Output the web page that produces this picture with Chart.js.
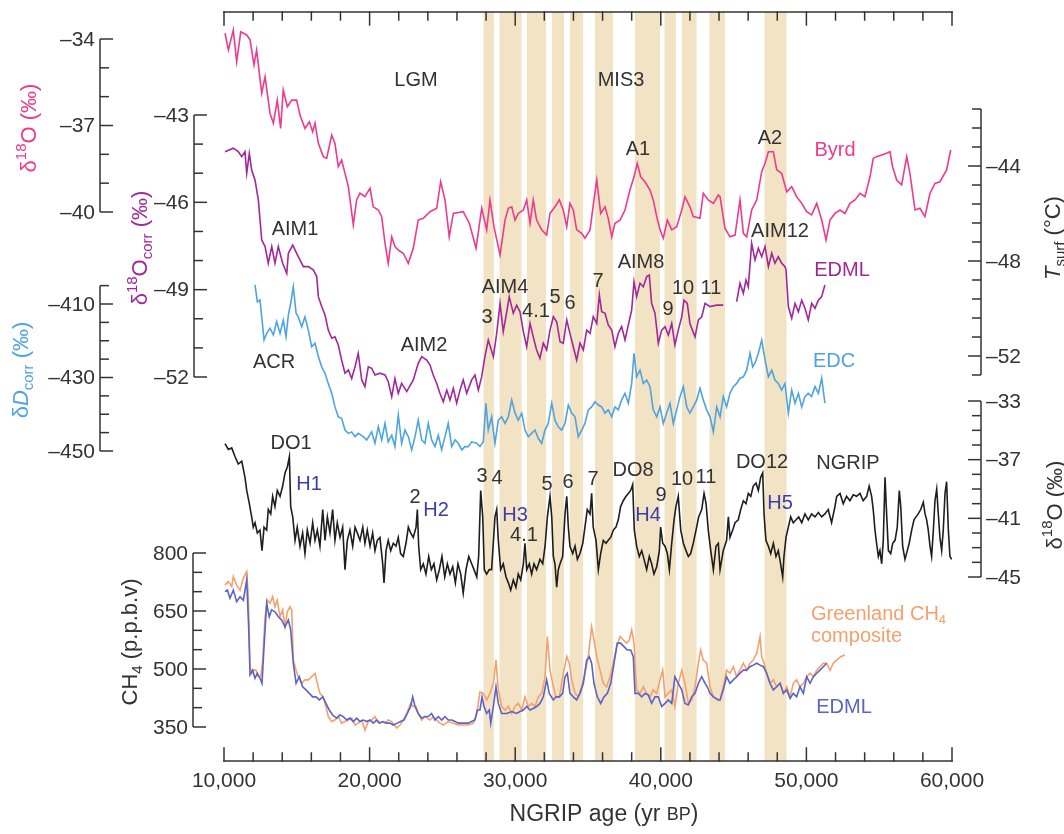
<!DOCTYPE html>
<html>
<head>
<meta charset="utf-8">
<script src="https://cdn.jsdelivr.net/npm/chart.js@4.4.1/dist/chart.umd.min.js"></script>
<style>
  html, body { margin: 0; padding: 0; background: #fff; }
  canvas { display: block; }
</style>
</head>
<body>
<canvas id="chart" width="1064" height="834"></canvas>
<script>
// ---- data: [age (yr BP), value] ----
const byrd = [
  [10070,-33.80],[10300,-34.38],[10640,-33.69],[10870,-34.79],[11150,-33.75],[11560,-33.86],[11790,-34.03],[12060,-34.90],[12240,-34.38],[12590,-35.88],
  [12820,-35.31],[13160,-36.58],[13390,-36.92],[13660,-36.12],[13890,-37.10],[14070,-35.77],[14350,-36.35],[14650,-36.12],[14990,-36.12],[15220,-36.64],
  [15560,-37.10],[15860,-36.87],[16090,-37.22],[16250,-36.92],[16480,-37.62],[16820,-38.08],[17050,-38.14],[17400,-37.33],[17620,-37.62],[17850,-38.43],
  [18080,-38.20],[18310,-38.66],[18540,-39.12],[18880,-40.45],[19110,-39.58],[19340,-39.35],[19680,-39.47],[20030,-39.18],[20250,-39.82],[20600,-39.93],
  [20830,-40.16],[21060,-41.09],[21280,-41.78],[21520,-40.86],[21740,-41.20],[21970,-41.32],[22310,-41.43],[22660,-41.78],[23000,-41.26],[23340,-40.28],
  [23690,-40.22],[24150,-39.99],[24610,-39.87],[24880,-38.95],[25180,-39.58],[25470,-40.86],[25750,-40.05],[26430,-39.99],[26850,-40.39],[27310,-41.26],
  [27700,-39.87],[28040,-40.62],[28270,-39.58],[28540,-40.51],[28960,-41.49],[29300,-40.28],[29530,-39.87],[29760,-39.82],[29990,-40.28],[30210,-40.05],
  [30560,-39.93],[30790,-39.58],[31020,-40.39],[31240,-39.58],[31470,-40.28],[31820,-40.62],[32160,-40.80],[32390,-40.05],[32730,-39.82],[33030,-39.58],
  [33300,-39.93],[33540,-40.51],[33760,-39.70],[33990,-39.93],[34220,-40.62],[34570,-40.74],[34790,-40.91],[35140,-40.62],[35410,-39.58],[35600,-38.89],
  [35870,-40.05],[36170,-39.82],[36390,-40.22],[36630,-40.86],[36850,-40.39],[37200,-40.28],[37540,-39.93],[37880,-39.24],[38160,-38.78],[38380,-38.31],
  [38620,-38.78],[38910,-38.95],[39260,-39.24],[39480,-39.58],[39720,-40.16],[39950,-40.62],[40170,-40.91],[40450,-40.28],[40750,-40.62],[41090,-40.51],
  [41440,-39.93],[41660,-39.47],[42000,-39.82],[42230,-40.16],[42690,-40.22],[42920,-39.35],[43260,-39.58],[43610,-39.70],[43950,-39.41],[44070,-39.47],
  [44410,-40.57],[44750,-40.86],[45100,-40.80],[45440,-39.58],[45670,-40.74],[45900,-40.86],[46240,-39.93],[46590,-39.58],[46930,-38.60],[47160,-38.31],
  [47390,-37.91],[47730,-37.91],[47960,-38.54],[48300,-38.66],[48650,-39.30],[48990,-39.12],[49330,-39.47],[49680,-39.70],[50020,-39.99],[50360,-40.10],
  [50710,-39.70],[51050,-40.28],[51350,-40.97],[51620,-40.28],[51960,-40.05],[52310,-39.93],[52650,-40.05],[52990,-39.70],[53340,-39.58],[53680,-39.35],
  [54020,-39.47],[54370,-38.78],[54590,-38.14],[54820,-38.08],[55170,-38.02],[55510,-37.96],[55740,-37.91],[55920,-38.43],[56200,-38.89],[56540,-39.06],
  [56890,-38.08],[57110,-38.66],[57460,-39.93],[57800,-39.87],[58140,-40.16],[58490,-39.35],[58830,-39.01],[59170,-38.95],[59630,-38.54],[59910,-37.85]
];

const edml = [
  [10070,-44.26],[10640,-44.14],[10980,-44.26],[11220,-44.43],[11440,-44.26],[11560,-45.00],[11740,-44.32],[11900,-44.89],[12130,-45.23],[12360,-45.92],
  [12590,-47.29],[12820,-47.52],[13040,-48.09],[13280,-47.52],[13500,-48.09],[13730,-47.52],[14030,-48.09],[14310,-48.44],[14420,-47.75],[14720,-47.47],
  [14990,-47.75],[15220,-47.98],[15450,-48.21],[15790,-48.21],[16130,-48.32],[16370,-48.55],[16480,-49.24],[16710,-49.58],[16940,-49.87],[17160,-50.39],
  [17400,-50.67],[17620,-50.62],[17850,-50.90],[18080,-51.42],[18310,-51.87],[18540,-51.76],[18770,-52.05],[19000,-51.65],[19220,-51.19],[19460,-52.10],
  [19680,-52.33],[19910,-51.65],[20140,-51.70],[20370,-51.93],[20710,-51.87],[21060,-51.93],[21280,-52.16],[21520,-52.68],[21740,-52.05],[21970,-52.56],
  [22200,-52.22],[22550,-52.50],[23000,-52.10],[23340,-51.53],[23580,-51.30],[23920,-51.42],[24150,-51.59],[24370,-51.93],[24610,-52.22],[24830,-52.56],
  [25060,-52.85],[25300,-52.45],[25520,-52.79],[25750,-52.39],[25980,-52.90],[26210,-52.45],[26430,-52.10],[26670,-52.56],[27010,-52.10],[27240,-51.93],
  [27470,-52.45],[27700,-51.99],[27920,-51.30],[28150,-50.73],[28500,-51.30],[28730,-50.50],[28960,-49.47],[29180,-50.44],[29420,-49.76],[29590,-49.24],
  [29870,-49.81],[30100,-49.53],[30330,-49.76],[30560,-50.44],[30790,-50.96],[31020,-50.16],[31240,-50.62],[31470,-51.07],[31700,-51.36],[31930,-50.84],
  [32160,-51.07],[32390,-50.39],[32620,-49.93],[32850,-50.10],[33080,-50.79],[33300,-50.84],[33540,-50.04],[33760,-50.50],[33990,-50.96],[34220,-51.42],
  [34450,-50.84],[34680,-51.07],[34910,-50.39],[35140,-50.50],[35360,-49.93],[35600,-50.16],[35780,-49.18],[35940,-49.76],[36170,-49.81],[36390,-50.21],
  [36630,-50.39],[36850,-50.96],[37080,-50.50],[37310,-50.27],[37540,-50.73],[37770,-50.21],[38000,-49.70],[38160,-48.73],[38340,-49.24],[38570,-48.78],
  [38800,-48.90],[39030,-48.55],[39210,-48.50],[39370,-49.47],[39600,-49.81],[39830,-50.84],[40060,-50.39],[40290,-50.27],[40520,-50.56],[40750,-50.16],
  [40970,-50.90],[41200,-50.39],[41440,-49.93],[41590,-49.36],[41820,-49.47],[42000,-50.16],[42350,-50.62],[42580,-50.04],[42810,-49.93],[43040,-49.47],
  [43380,-49.58],[43840,-49.53],[44290,-49.53],[44750,null],
  [45210,-49.41],[45440,-48.78],[45670,-49.13],[45850,-48.67],[46010,-48.90],[46240,-47.41],[46470,-47.98],[46700,-47.58],[46930,-47.87],[47160,-47.52],
  [47390,-48.21],[47620,-47.75],[47840,-48.09],[48070,-47.87],[48300,-48.09],[48530,-48.21],[48600,-48.32],[48760,-49.58],[48990,-49.98],[49220,-49.47],
  [49450,-49.76],[49680,-49.36],[49900,-49.64],[50130,-50.04],[50360,-49.47],[50590,-49.64],[50820,-49.36],[51050,-49.24],[51270,-48.84]
];

const edc = [
  [12130,-404.8],[12290,-409.4],[12470,-408.9],[12590,-413.5],[12750,-419.8],[12930,-418.0],[13160,-416.6],[13390,-418.4],[13620,-414.8],[13850,-418.0],
  [14070,-414.4],[14260,-418.9],[14420,-413.0],[14580,-409.8],[14760,-405.3],[14950,-412.5],[15100,-413.5],[15340,-416.2],[15560,-413.5],[15790,-417.1],
  [16020,-421.6],[16250,-420.7],[16480,-424.3],[16710,-427.1],[16940,-428.9],[17160,-431.6],[17400,-434.3],[17620,-438.0],[17850,-440.7],[18080,-441.1],
  [18310,-444.3],[18540,-445.2],[18770,-444.8],[19000,-446.1],[19220,-445.2],[19570,-446.1],[19800,-447.0],[20140,-444.8],[20370,-447.9],[20600,-443.4],
  [20830,-447.0],[21060,-442.5],[21280,-447.5],[21520,-445.7],[21740,-448.8],[21970,-440.2],[22200,-447.9],[22430,-444.3],[22660,-446.1],[22890,-449.7],
  [23120,-446.1],[23340,-441.6],[23580,-447.0],[23800,-447.9],[24030,-442.5],[24260,-447.0],[24490,-448.8],[24720,-445.7],[24950,-449.7],[25180,-446.1],
  [25400,-442.5],[25640,-448.8],[25870,-447.0],[26090,-447.9],[26330,-449.7],[26550,-448.8],[26780,-448.8],[27010,-447.5],[27360,-447.9],[27580,-448.8],
  [27810,-447.5],[27990,-437.0],[28150,-444.3],[28380,-440.7],[28610,-447.9],[28840,-441.6],[29070,-440.7],[29300,-442.5],[29530,-440.7],[29760,-436.1],
  [29990,-439.7],[30210,-441.6],[30450,-439.7],[30670,-444.3],[30900,-446.1],[31130,-445.2],[31360,-444.3],[31590,-446.6],[31820,-447.9],[32050,-444.3],
  [32270,-442.5],[32510,-437.0],[32730,-441.6],[32960,-443.4],[33190,-444.3],[33420,-442.5],[33650,-437.5],[33880,-439.7],[34110,-440.7],[34330,-446.1],
  [34570,-444.3],[34790,-442.5],[35020,-438.8],[35250,-438.0],[35480,-436.6],[35710,-437.5],[35940,-438.0],[36170,-439.7],[36390,-438.8],[36630,-440.7],
  [36850,-438.0],[37080,-438.8],[37310,-436.1],[37540,-434.3],[37770,-437.0],[38000,-431.6],[38160,-423.4],[38340,-429.8],[38570,-428.0],[38800,-431.6],
  [39030,-430.7],[39260,-432.5],[39480,-438.8],[39720,-440.7],[39950,-438.0],[40170,-442.5],[40400,-439.7],[40630,-437.0],[40860,-442.5],[41090,-438.8],
  [41320,-435.2],[41550,-432.5],[41780,-438.0],[42000,-439.7],[42230,-438.0],[42470,-436.1],[42690,-432.9],[42920,-436.1],[43150,-438.8],[43380,-440.7],
  [43610,-444.8],[43840,-438.0],[44070,-440.7],[44290,-435.2],[44520,-438.0],[44750,-434.3],[44980,-432.5],[45210,-431.6],[45440,-430.2],[45670,-429.8],
  [45900,-428.0],[46130,-423.4],[46310,-427.1],[46470,-426.1],[46700,-423.4],[46930,-419.8],[47160,-425.2],[47390,-429.8],[47620,-428.0],[47840,-430.7],
  [48070,-431.6],[48300,-433.4],[48530,-431.6],[48760,-439.7],[48990,-433.4],[49220,-437.0],[49450,-434.3],[49680,-438.0],[49900,-435.2],[50130,-434.3],
  [50360,-435.2],[50590,-432.5],[50820,-434.3],[51050,-430.2],[51270,-437.0]
];

const ngrip = [
  [10070,-35.9],[10300,-36.3],[10530,-36.2],[10760,-36.8],[10980,-37.3],[11220,-37.1],[11440,-38.2],[11560,-39.1],[11740,-40.0],[11900,-40.9],
  [12010,-41.6],[12130,-41.3],[12290,-42.0],[12470,-41.8],[12610,-43.2],[12750,-41.6],[12930,-41.8],[13040,-40.4],[13210,-40.7],[13340,-39.5],
  [13500,-40.2],[13660,-39.1],[13850,-39.5],[14030,-38.8],[14190,-37.9],[14350,-37.5],[14490,-36.8],[14580,-40.2],[14720,-40.9],[14880,-42.5],
  [15030,-41.6],[15220,-42.9],[15400,-42.0],[15560,-43.4],[15720,-41.8],[15910,-42.7],[16090,-41.3],[16250,-42.5],[16410,-41.8],[16590,-42.9],
  [16780,-40.4],[16940,-42.5],[17100,-40.9],[17280,-42.0],[17460,-40.4],[17620,-42.5],[17780,-41.3],[17970,-42.3],[18150,-41.6],[18310,-44.5],
  [18470,-42.5],[18650,-41.8],[18840,-42.9],[19000,-41.6],[19160,-42.0],[19340,-42.5],[19530,-41.6],[19680,-42.7],[19840,-41.8],[20030,-42.9],
  [20210,-42.0],[20370,-43.2],[20530,-42.5],[20710,-42.3],[20900,-44.1],[20990,-45.4],[21130,-43.2],[21280,-42.5],[21450,-43.2],[21630,-42.7],
  [21810,-42.9],[21970,-42.3],[22130,-43.4],[22310,-43.6],[22500,-42.7],[22660,-41.6],[22820,-42.0],[23000,-42.3],[23190,-41.6],[23280,-40.4],
  [23370,-42.9],[23510,-44.5],[23690,-44.1],[23870,-44.8],[24060,-43.6],[24240,-44.5],[24420,-44.1],[24610,-45.2],[24790,-44.5],[24970,-43.6],
  [25160,-45.0],[25340,-44.1],[25520,-44.8],[25710,-44.3],[25890,-45.4],[26070,-44.1],[26260,-44.8],[26430,-46.1],[26620,-44.5],[26810,-43.6],
  [27010,-44.1],[27170,-44.5],[27360,-45.0],[27490,-43.6],[27630,-39.1],[27770,-40.9],[27880,-44.5],[28040,-44.8],[28220,-44.5],[28380,-44.5],
  [28610,-40.9],[28730,-40.4],[28840,-42.5],[29000,-44.5],[29180,-44.1],[29370,-45.0],[29530,-45.4],[29690,-45.9],[29870,-45.2],[30050,-45.7],
  [30210,-44.8],[30380,-45.2],[30560,-44.1],[30670,-42.7],[30790,-44.5],[30970,-44.1],[31130,-44.8],[31290,-44.1],[31470,-44.5],[31700,-43.8],
  [31890,-44.1],[32050,-42.9],[32210,-40.9],[32390,-39.5],[32510,-40.9],[32620,-43.6],[32730,-44.1],[32850,-45.7],[32960,-44.5],[33080,-44.1],
  [33260,-43.6],[33420,-40.7],[33540,-39.5],[33650,-41.6],[33760,-42.9],[33950,-43.4],[34110,-42.9],[34270,-43.8],[34450,-43.4],[34640,-42.7],
  [34790,-41.6],[34950,-40.4],[35140,-40.7],[35250,-39.3],[35360,-41.6],[35550,-42.5],[35710,-44.5],[35870,-43.4],[36050,-42.5],[36240,-42.7],
  [36390,-42.5],[36560,-42.3],[36740,-41.8],[36920,-41.6],[37080,-41.1],[37240,-40.2],[37420,-39.8],[37610,-39.5],[37770,-39.3],[37930,-39.1],
  [38070,-38.7],[38180,-41.8],[38340,-42.9],[38520,-43.6],[38690,-43.2],[38850,-43.8],[39030,-44.5],[39210,-43.6],[39370,-44.1],[39530,-44.8],
  [39720,-44.3],[39900,-43.2],[39990,-41.6],[40130,-42.7],[40290,-42.9],[40450,-43.4],[40590,-44.5],[40750,-42.7],[40910,-41.1],[41040,-40.2],
  [41200,-39.5],[41370,-41.8],[41550,-42.7],[41730,-43.2],[41890,-43.6],[42050,-43.4],[42230,-42.7],[42420,-41.8],[42600,-40.9],[42810,-40.4],
  [42970,-39.3],[43110,-40.0],[43260,-41.8],[43430,-43.2],[43610,-44.5],[43790,-42.9],[43950,-42.7],[44070,-44.5],[44290,-43.2],[44520,-42.5],
  [44640,-40.9],[44750,-42.3],[44940,-41.8],[45100,-41.3],[45320,-41.1],[45490,-40.4],[45670,-39.8],[45850,-40.0],[46010,-39.3],[46180,-39.5],
  [46350,-38.8],[46540,-38.6],[46700,-39.1],[46860,-38.2],[47000,-37.9],[47090,-40.7],[47220,-42.5],[47390,-42.9],[47550,-43.4],[47730,-42.7],
  [47910,-43.6],[48070,-43.2],[48230,-44.1],[48370,-45.0],[48460,-43.6],[48600,-42.3],[48760,-41.6],[48920,-40.9],[49100,-41.3],[49290,-41.1],
  [49470,-40.9],[49680,-41.3],[49900,-40.7],[50130,-41.1],[50360,-40.7],[50590,-40.9],[50820,-40.6],[51050,-40.9],[51270,-40.7],[51500,-40.4],
  [51730,-41.3],[51960,-40.2],[52080,-39.5],[52310,-39.3],[52530,-40.0],[52760,-39.5],[52990,-39.8],[53220,-39.4],[53450,-39.5],[53680,-39.3],
  [53900,-39.8],[54140,-39.5],[54310,-38.8],[54480,-39.5],[54590,-40.4],[54710,-41.8],[54820,-42.7],[54940,-43.6],[55050,-43.2],[55170,-44.1],
  [55280,-42.5],[55400,-38.2],[55510,-40.7],[55630,-43.2],[55790,-43.4],[55930,-42.7],[56090,-42.5],[56240,-41.6],[56380,-39.1],[56480,-40.2],
  [56610,-42.9],[56770,-43.8],[56930,-43.2],[57060,-42.7],[57230,-41.8],[57390,-41.1],[57530,-40.9],[57680,-40.7],[57850,-40.4],[58030,-39.9],
  [58150,-40.7],[58260,-41.1],[58370,-41.8],[58490,-42.9],[58600,-43.6],[58720,-41.8],[58830,-39.8],[58950,-39.0],[59060,-40.7],[59170,-42.3],
  [59290,-43.2],[59400,-41.8],[59520,-39.3],[59630,-38.5],[59750,-41.8],[59860,-43.6],[59980,-43.8]
];

const ch4Greenland = [
  [10070,717],[10300,726],[10530,713],[10640,739],[10870,717],[11100,704],[11330,735],[11560,752],[11670,687],[11790,506],
  [11900,489],[12010,497],[12200,497],[12360,480],[12520,480],[12660,523],[12820,635],[12980,678],[13160,670],[13340,687],
  [13500,661],[13660,678],[13850,635],[14030,653],[14190,609],[14350,648],[14530,661],[14650,653],[14760,523],[14950,497],
  [15100,480],[15340,463],[15560,472],[15790,472],[16020,480],[16250,489],[16410,463],[16590,437],[16820,428],[17000,403],
  [17160,377],[17400,364],[17620,368],[17850,377],[18080,360],[18310,364],[18540,368],[18770,373],[19000,355],[19220,360],
  [19460,368],[19680,342],[19910,364],[20140,368],[20370,377],[20600,360],[20830,364],[21060,360],[21280,368],[21520,364],
  [21860,347],[22090,355],[22310,368],[22550,385],[22820,411],[23000,403],[23190,403],[23340,385],[23580,368],[23800,377],
  [24150,368],[24370,377],[24610,368],[24830,360],[25060,355],[25400,364],[25750,360],[26090,355],[26430,355],[26780,355],
  [27120,360],[27360,385],[27580,441],[27810,437],[28040,420],[28270,437],[28500,463],[28680,523],[28840,446],[29070,403],
  [29300,394],[29530,403],[29760,385],[29990,403],[30210,411],[30450,394],[30670,428],[30900,403],[31130,411],[31360,403],
  [31590,428],[31820,437],[32050,480],[32210,584],[32390,497],[32620,454],[32800,428],[33030,428],[33190,463],[33350,497],
  [33540,532],[33720,515],[33880,472],[34110,437],[34330,428],[34570,454],[34790,489],[35020,532],[35250,609],[35410,575],
  [35600,532],[35830,497],[36050,463],[36280,454],[36510,480],[36740,515],[36970,558],[37200,584],[37430,575],[37660,567],
  [37840,575],[38000,601],[38160,567],[38340,446],[38570,437],[38800,454],[39030,437],[39260,428],[39480,446],[39720,437],
  [39950,472],[40130,497],[40290,428],[40520,437],[40750,446],[40970,403],[41200,463],[41440,497],[41660,463],[41890,411],
  [42120,420],[42350,454],[42580,515],[42740,549],[42920,523],[43150,515],[43380,454],[43610,428],[43950,420],[44070,420],
  [44290,454],[44520,497],[44750,489],[44980,506],[45210,480],[45440,497],[45670,515],[45900,497],[46130,515],[46350,523],
  [46590,541],[46820,584],[46930,532],[47090,515],[47270,489],[47500,463],[47730,472],[47960,454],[48190,463],[48420,437],
  [48650,454],[48880,428],[49100,463],[49330,472],[49560,454],[49790,463],[50020,480],[50250,489],[50480,480],[50710,497],
  [50930,506],[51160,515],[51390,515],[51620,497],[51850,515],[52080,523],[52350,532],[52650,536]
];

const ch4Edml = [
  [10070,700],[10230,704],[10410,683],[10640,704],[10870,674],[11100,687],[11330,678],[11560,730],[11700,601],[11790,485],
  [11970,497],[12130,476],[12290,489],[12470,476],[12610,463],[12750,558],[12930,670],[13110,635],[13270,653],[13500,648],
  [13730,635],[13960,627],[14190,609],[14420,627],[14580,601],[14760,515],[14950,463],[15170,480],[15400,454],[15630,446],
  [15860,437],[16090,428],[16320,428],[16550,420],[16780,428],[17000,411],[17230,394],[17460,381],[17740,373],[17970,381],
  [18190,377],[18430,368],[18650,373],[18880,364],[19110,373],[19340,364],[19570,368],[19800,364],[20030,368],[20250,360],
  [20490,368],[20710,360],[20940,364],[21170,360],[21400,360],[21630,355],[21900,360],[22130,364],[22360,368],[22590,385],
  [22820,403],[22960,428],[23120,403],[23340,385],[23580,373],[23800,377],[24030,377],[24260,385],[24490,368],[24720,377],
  [24950,368],[25180,377],[25400,368],[25640,368],[25870,364],[26090,360],[26330,360],[26550,360],[26780,360],[27010,364],
  [27240,368],[27400,394],[27580,394],[27720,428],[27860,403],[28040,385],[28220,394],[28320,360],[28500,403],[28680,454],
  [28840,411],[29070,385],[29420,385],[29760,390],[30100,385],[30330,390],[30560,394],[30790,403],[31020,394],[31240,398],
  [31470,403],[31700,411],[31930,428],[32160,472],[32340,437],[32620,420],[32800,428],[33030,428],[33260,437],[33420,480],
  [33580,489],[33760,437],[33990,428],[34220,420],[34450,437],[34680,463],[34910,523],[35090,532],[35250,515],[35410,463],
  [35640,428],[35870,411],[36100,428],[36330,437],[36560,463],[36790,515],[37010,567],[37240,567],[37470,558],[37700,549],
  [37930,549],[38110,532],[38230,437],[38460,437],[38690,428],[38910,437],[39140,433],[39370,411],[39600,428],[39830,428],
  [40060,403],[40290,411],[40520,420],[40750,411],[40970,480],[41200,463],[41440,446],[41660,411],[41890,407],[42120,428],
  [42350,437],[42580,463],[42810,480],[43040,463],[43190,454],[43380,437],[43610,428],[43950,420],[44070,420],[44290,446],
  [44520,480],[44750,463],[44980,472],[45210,480],[45440,489],[45670,497],[45900,497],[46130,506],[46350,510],[46590,515],
  [46820,510],[47040,506],[47270,489],[47500,463],[47730,446],[47960,454],[48190,463],[48420,437],[48650,446],[48880,424],
  [49100,437],[49330,428],[49560,454],[49790,437],[50020,480],[50250,463],[50480,480],[50710,489],[50930,497],[51160,506],
  [51390,515]
];

// shaded stadial intervals (yr BP)
const bandStart = [27810, 28910, 30790, 32510, 33760, 35480, 38230, 40240, 41440, 43330, 47110];
const bandEnd   = [28540, 30450, 32120, 33370, 34680, 36740, 39950, 41040, 42470, 44410, 48650];

// axis tick labels
const xTicks = [10000, 20000, 30000, 40000, 50000, 60000];
const byrdTicks = [-34, -37, -40];
const edmlTicks = [-43, -46, -49, -52];
const edcTicks = [-410, -430, -450];
const ch4Ticks = [800, 650, 500, 350];
const tsurfTicks = [-44, -48, -52];
const ngripTicks = [-33, -37, -41, -45];

// ---- layout helpers ----
const TOP = 12, BOTTOM = 761;
const FONT = "'Liberation Sans', Arial, Helvetica, sans-serif";
const INK = '#333';
const C = {
  byrd: '#ec3b8e', edml: '#a0289b', edc: '#4ea4e0', ngrip: '#1e1e1e',
  ch4g: '#f5a06e', ch4e: '#5a64c8', band: '#f2e3c5', heinrich: '#3c3ca8'
};

function fit(v1, p1, v2, p2) {
  const k = (p2 - p1) / (v1 - v2);
  return { min: v2 - (BOTTOM - p2) / k, max: v1 + (p1 - TOP) / k };
}
const R = {
  yByrd: fit(-34, 39, -40, 212),
  yEdml: fit(-43, 115, -52, 377),
  yEdc: fit(-410, 304, -450, 451),
  yTsurf: fit(-44, 166, -48, 261),
  yNgrip: fit(-33, 401, -45, 577),
  yCh4: fit(800, 553, 350, 727)
};

const yAxes = [
  { id: 'yByrd', x: 100, side: 'left', ticks: byrdTicks, from: -34, to: -40, step: 1 },
  { id: 'yEdml', x: 194, side: 'left', ticks: edmlTicks, from: -43, to: -52, step: 1 },
  { id: 'yEdc', x: 100, side: 'left', ticks: edcTicks, from: -405, to: -450, step: 5 },
  { id: 'yCh4', x: 193, side: 'left', ticks: ch4Ticks, from: 800, to: 350, step: 50 },
  { id: 'yTsurf', x: 981, side: 'right', ticks: tsurfTicks, from: -41.6, to: -52.8, step: 0.8 },
  { id: 'yNgrip', x: 981, side: 'right', ticks: ngripTicks, from: -33, to: -45, step: 1 }
];

const axisTitles = [
  { x: 30, y: 128, color: C.byrd, parts: [{ t: 'δ' }, { t: '18', sup: 1 }, { t: 'O (‰)' }] },
  { x: 141, y: 248, color: C.edml, parts: [{ t: 'δ' }, { t: '18', sup: 1 }, { t: 'O' }, { t: 'corr', sub: 1 }, { t: ' (‰)' }] },
  { x: 22, y: 370, color: C.edc, parts: [{ t: 'δ' }, { t: 'D', it: 1 }, { t: 'corr', sub: 1 }, { t: ' (‰)' }] },
  { x: 131, y: 642, color: INK, parts: [{ t: 'CH' }, { t: '4', sub: 1 }, { t: ' (p.p.b.v)' }] },
  { x: 1054, y: 238, color: INK, parts: [{ t: 'T', it: 1 }, { t: 'surf', sub: 1 }, { t: ' (°C)' }] },
  { x: 1056, y: 505, color: INK, parts: [{ t: 'δ' }, { t: '18', sup: 1 }, { t: 'O (‰)' }] }
];

const notes = [
  ['LGM', 416, 80], ['MIS3', 621, 80], ['A1', 638, 149], ['A2', 770, 138],
  ['Byrd', 835, 150, C.byrd], ['AIM1', 295, 229], ['AIM12', 780, 231], ['EDML', 842, 270, C.edml],
  ['AIM4', 505, 287], ['3', 487, 317], ['4.1', 536, 311], ['5', 555, 297], ['6', 570, 303],
  ['7', 598, 281], ['AIM8', 641, 262], ['9', 668, 309], ['10', 683, 288], ['11', 711, 288],
  ['ACR', 274, 362], ['AIM2', 424, 345], ['EDC', 834, 361, C.edc],
  ['DO1', 291, 443], ['H1', 309, 484, C.heinrich], ['2', 415, 497], ['H2', 436, 510, C.heinrich],
  ['3', 482, 476], ['4', 497, 478], ['H3', 515, 515, C.heinrich], ['4.1', 524, 535],
  ['5', 547, 484], ['6', 568, 482], ['7', 593, 479], ['DO8', 633, 470], ['9', 661, 495],
  ['H4', 648, 515, C.heinrich], ['10', 682, 479], ['11', 706, 477], ['DO12', 762, 462],
  ['NGRIP', 848, 463], ['H5', 780, 503, C.heinrich], ['EDML', 844, 707, C.ch4e]
];

function fontFor(p, size) {
  const s = (p.sup || p.sub) ? Math.round(size * 0.66) : p.small ? Math.round(size * 0.78) : size;
  return (p.it ? 'italic ' : '') + s + 'px ' + FONT;
}
function drawRich(ctx, parts, x, y, size, color, rotate, align) {
  ctx.save();
  ctx.translate(x, y);
  if (rotate) ctx.rotate(-Math.PI / 2);
  ctx.fillStyle = color;
  ctx.textBaseline = 'middle';
  ctx.textAlign = 'left';
  let w = 0;
  parts.forEach(p => { ctx.font = fontFor(p, size); w += ctx.measureText(p.t).width; });
  let cx = align === 'left' ? 0 : -w / 2;
  parts.forEach(p => {
    ctx.font = fontFor(p, size);
    const dy = p.sup ? -size * 0.36 : p.sub ? size * 0.3 : 0;
    ctx.fillText(p.t, cx, dy);
    cx += ctx.measureText(p.t).width;
  });
  ctx.restore();
}
const fmt = v => (v < 0 ? '–' + Math.abs(v) : String(v));

const decor = {
  id: 'decor',
  afterDatasetsDraw(chart) {
    const ctx = chart.ctx;
    const xs = chart.scales.x;
    const { top, bottom, left, right } = chart.chartArea;
    const seg = (x1, y1, x2, y2) => { ctx.beginPath(); ctx.moveTo(x1, y1); ctx.lineTo(x2, y2); ctx.stroke(); };
    ctx.save();
    ctx.strokeStyle = INK;
    ctx.lineWidth = 1.5;
    ctx.lineCap = 'square';

    // top and bottom frame with inward ticks
    seg(left, top, right, top);
    seg(left, bottom, right, bottom);
    for (let v = 10000; v <= 60000; v += 2000) {
      const px = xs.getPixelForValue(v);
      const len = v % 10000 === 0 ? 13 : 8;
      seg(px, top, px, top + len);
      seg(px, bottom, px, bottom - len);
    }

    // y axes
    ctx.lineCap = 'butt';
    yAxes.forEach(a => {
      const sc = chart.scales[a.id];
      const dir = a.side === 'left' ? 1 : -1;
      seg(a.x, sc.getPixelForValue(a.from), a.x, sc.getPixelForValue(a.to));
      const lo = Math.min(a.from, a.to), hi = Math.max(a.from, a.to);
      const n = Math.round((hi - lo) / a.step);
      for (let i = 0; i <= n; i++) {
        const v = lo + i * a.step;
        const isMajor = a.ticks.some(t => Math.abs(t - v) < 1e-6);
        const py = sc.getPixelForValue(v);
        seg(a.x, py, a.x + dir * (isMajor ? 13 : 9), py);
      }
      ctx.fillStyle = INK;
      ctx.font = '21px ' + FONT;
      ctx.textBaseline = 'middle';
      ctx.textAlign = a.side === 'left' ? 'right' : 'left';
      a.ticks.forEach(t => {
        ctx.fillText(fmt(t), a.x - dir * 5, sc.getPixelForValue(t) + 1);
      });
    });

    axisTitles.forEach(t => drawRich(ctx, t.parts, t.x, t.y, 22, t.color, true));

    // x axis title
    drawRich(ctx, [{ t: 'NGRIP age (yr ' }, { t: 'BP', small: 1 }, { t: ')' }], 604, 815, 23, INK, false);

    // annotations
    notes.forEach(([t, x, y, color]) => drawRich(ctx, [{ t }], x, y, 20, color || INK, false));
    drawRich(ctx, [{ t: 'Greenland CH' }, { t: '4', sub: 1 }], 811, 614, 20, C.ch4g, false, 'left');
    drawRich(ctx, [{ t: 'composite' }], 811, 636, 20, C.ch4g, false, 'left');

    ctx.restore();
  }
};

function lineSet(series, color, yAxisID, width, order) {
  return {
    data: series.map(([x, y]) => ({ x, y })),
    yAxisID, borderColor: color, borderWidth: width,
    pointRadius: 0, tension: 0, fill: false, spanGaps: false, order
  };
}

const datasets = [
  lineSet(byrd, C.byrd, 'yByrd', 1.6, 1),
  lineSet(edml, C.edml, 'yEdml', 1.6, 1),
  lineSet(edc, C.edc, 'yEdc', 1.6, 1),
  lineSet(ngrip, C.ngrip, 'yNgrip', 1.6, 1),
  lineSet(ch4Greenland, C.ch4g, 'yCh4', 1.6, 2),
  lineSet(ch4Edml, C.ch4e, 'yCh4', 1.6, 1)
];
bandStart.forEach((s, i) => {
  datasets.push({
    data: [{ x: s, y: 1 }, { x: bandEnd[i], y: 1 }],
    yAxisID: 'yBand', borderColor: 'transparent', borderWidth: 0,
    backgroundColor: C.band, fill: 'start', pointRadius: 0, order: 5
  });
});

const scales = {
  x: {
    type: 'linear', position: 'bottom', min: 10000, max: 60000,
    grid: { display: false, drawTicks: false }, border: { display: false },
    ticks: { stepSize: 10000, padding: 8, color: INK, font: { family: FONT, size: 21 },
      callback: v => v.toLocaleString('en-US') },
    afterBuildTicks: s => { s.ticks = xTicks.map(v => ({ value: v })); },
    afterFit: s => { s.height = 834 - BOTTOM; }
  },
  yBand: { type: 'linear', display: false, min: 0, max: 1 }
};
Object.keys(R).forEach(id => {
  scales[id] = { type: 'linear', display: false, min: R[id].min, max: R[id].max };
});

new Chart(document.getElementById('chart'), {
  type: 'line',
  data: { datasets },
  options: {
    responsive: false,
    animation: false,
    layout: { padding: { left: 224, right: 112, top: TOP, bottom: 0 } },
    plugins: { legend: { display: false }, tooltip: { enabled: false } },
    scales
  },
  plugins: [decor]
});
</script>
</body>
</html>
